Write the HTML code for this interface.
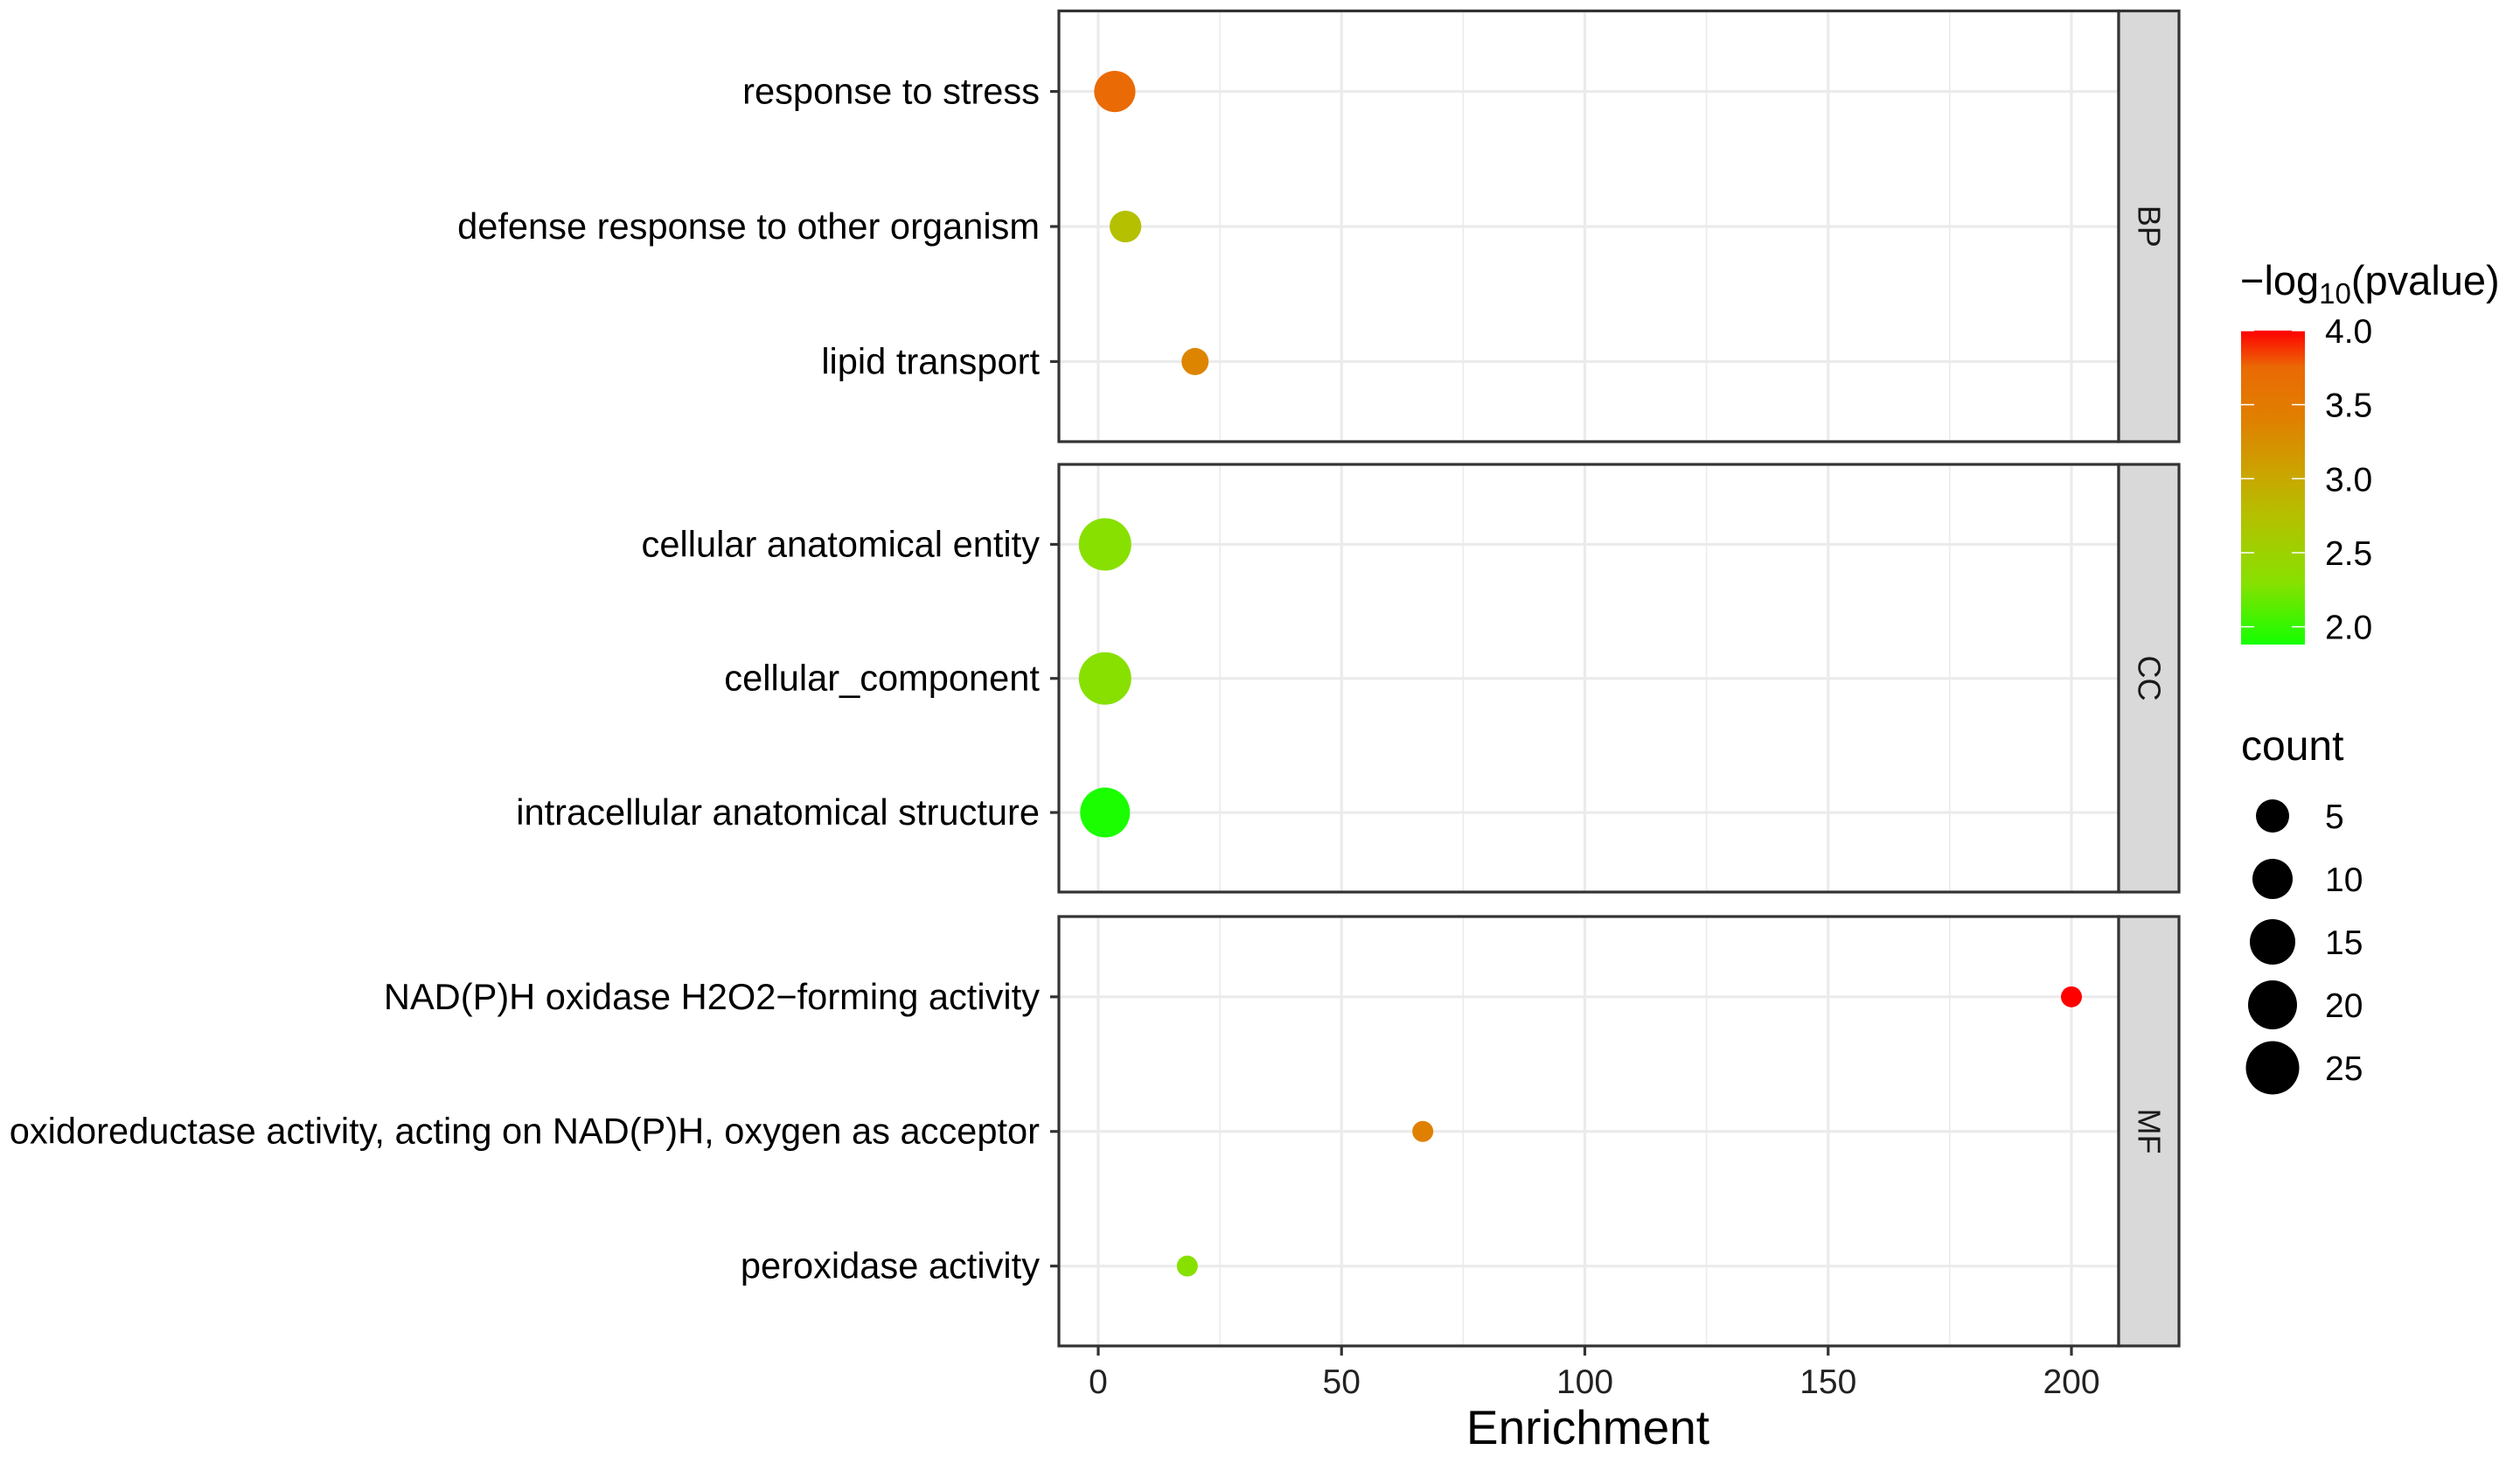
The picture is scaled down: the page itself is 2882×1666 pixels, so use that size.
<!DOCTYPE html>
<html><head><meta charset="utf-8"><style>
html,body{margin:0;padding:0;background:#fff;}
svg{display:block;font-family:"Liberation Sans",Arial,sans-serif;}
</style></head><body>
<svg id="chart" width="2882" height="1666" viewBox="0 0 2882 1666" xmlns="http://www.w3.org/2000/svg"></svg>
<script>
const facets = ["BP","CC","MF"];
const terms = [
 ["response to stress","defense response to other organism","lipid transport"],
 ["cellular anatomical entity","cellular_component","intracellular anatomical structure"],
 ["NAD(P)H oxidase H2O2\u2212forming activity","oxidoreductase activity, acting on NAD(P)H, oxygen as acceptor","peroxidase activity"]
];
const enrichment = [[3.4,5.6,19.9],[1.4,1.4,1.4],[200,66.7,18.3]];
const pvalLog = [[3.75,2.75,3.35],[2.3,2.3,1.9],[4.0,3.4,2.3]];
const counts = [[11,4.5,3],[24,24,21],[1,1,1]];
const xTicks = [0,50,100,150,200];
const colorTicks = [2.0,2.5,3.0,3.5,4.0];
const sizeBreaks = [5,10,15,20,25];

const svg = document.getElementById('chart');
const NS = "http://www.w3.org/2000/svg";
function mk(tag, attrs, parent){const e=document.createElementNS(NS,tag);for(const k in attrs)e.setAttribute(k,attrs[k]);(parent||svg).appendChild(e);return e;}

const PL=1211, PR=2423, X0=1256, XS=5.565;
const xMin=(PL-X0)/XS, xMax=(PR-X0)/XS;
function xPos(v){return PL+(v-xMin)/(xMax-xMin)*(PR-PL);}
const panels=[[12.5,505],[531,1020],[1048,1539]];
function yPos(p,i){const [t,b]=panels[p];const h=b-t;return t+h*(0.187+0.3135*i);}
const sizeC=[1,5,10,15,20,25], sizeD=[24,38,46,52,56,61];
function diam(c){for(let i=0;i<sizeC.length-1;i++){if(c<=sizeC[i+1]){const t=(c-sizeC[i])/(sizeC[i+1]-sizeC[i]);return sizeD[i]+t*(sizeD[i+1]-sizeD[i]);}}return sizeD[sizeD.length-1];}
const cMin=1.88, cMax=4.0;
const stopV=[1.88,2.3,2.75,3.0,3.4,3.75,4.0];
const stopC=[[20,255,0],[136,224,0],[181,192,0],[200,168,0],[224,128,0],[234,106,5],[255,0,0]];
function col(v){v=Math.max(cMin,Math.min(cMax,v));for(let i=0;i<stopV.length-1;i++){if(v<=stopV[i+1]){const t=(v-stopV[i])/(stopV[i+1]-stopV[i]);const c=stopC[i].map((a,k)=>Math.round(a+t*(stopC[i+1][k]-a)));return `rgb(${c.join(',')})`;}}return 'rgb(255,0,0)';}
const CBT=378, CBB=737;
function cbY(v){return CBB-(v-cMin)/(cMax-cMin)*(CBB-CBT);}

panels.forEach((pb,p)=>{
  const g=mk('g',{});  
  mk('rect',{x:PL,y:pb[0],width:PR-PL,height:pb[1]-pb[0],fill:'#fff'},g);
  for(let i=0;i<xTicks.length;i++){const m=xTicks[i]+25;const xx=xPos(m);if(xx<PR)mk('line',{x1:xx,x2:xx,y1:pb[0],y2:pb[1],stroke:'#ebebeb','stroke-width':1.6},g);}
  xTicks.forEach(t=>{const xx=xPos(t);mk('line',{x1:xx,x2:xx,y1:pb[0],y2:pb[1],stroke:'#ebebeb','stroke-width':3.2},g);});
  terms[p].forEach((term,i)=>{
    const y=yPos(p,i);
    mk('line',{x1:PL,x2:PR,y1:y,y2:y,stroke:'#ebebeb','stroke-width':3.2},g);
    mk('line',{x1:PL-10,x2:PL,y1:y,y2:y,stroke:'#333','stroke-width':3.2},g);
    const lab=mk('text',{x:1189,y:y+14,'text-anchor':'end','font-size':41.6,fill:'#000'},g);
    lab.textContent=term;
    
    
  });
  terms[p].forEach((term,i)=>{
    const c=mk('circle',{cx:xPos(enrichment[p][i]),cy:yPos(p,i),r:diam(counts[p][i])/2,fill:col(pvalLog[p][i])},g);
    
    
  });
  mk('rect',{x:PL,y:pb[0],width:PR-PL,height:pb[1]-pb[0],fill:'none',stroke:'#333','stroke-width':3.2},g);
  const s=mk('rect',{x:PR,y:pb[0],width:69,height:pb[1]-pb[0],fill:'#d9d9d9',stroke:'#333','stroke-width':3.2},g);
  
  
  const cy=(pb[0]+pb[1])/2;
  const st=mk('text',{x:2458,y:cy,'text-anchor':'middle','dominant-baseline':'central','font-size':36,fill:'#1a1a1a',transform:`rotate(90 2458 ${cy})`},g);
  st.textContent=facets[p];
  
  
});
xTicks.forEach(t=>{
  const xx=xPos(t);
  mk('line',{x1:xx,x2:xx,y1:1539,y2:1550,stroke:'#333','stroke-width':3.2});
  const tl=mk('text',{x:xx,y:1593,'text-anchor':'middle','font-size':39,fill:'#222'});
  tl.textContent=t;
  
  
});
const xt=mk('text',{x:1816,y:1651,'text-anchor':'middle','font-size':55,fill:'#000'});
xt.textContent='Enrichment';



const lt=mk('text',{x:2562,y:337,'font-size':47,fill:'#000'});
lt.innerHTML='\u2212log<tspan font-size="33" dy="10">10</tspan><tspan dy="-10">(pvalue)</tspan>';


const defs=mk('defs',{});
const lg=mk('linearGradient',{id:'cg',x1:0,y1:1,x2:0,y2:0},defs);
stopV.forEach(v=>{mk('stop',{offset:(v-cMin)/(cMax-cMin),'stop-color':col(v)},lg);});
const cb=mk('rect',{x:2563,y:CBT,width:73,height:CBB-CBT,fill:'url(#cg)'});


colorTicks.forEach(v=>{
  const y=cbY(v);
  mk('line',{x1:2563,x2:2578,y1:y,y2:y,stroke:'#fff','stroke-width':1.5});
  mk('line',{x1:2621,x2:2636,y1:y,y2:y,stroke:'#fff','stroke-width':1.5});
  const tl=mk('text',{x:2659,y:y+14,'font-size':39,fill:'#000'});
  tl.textContent=v.toFixed(1);
  
  
});
const ct=mk('text',{x:2563,y:869,'font-size':48,fill:'#000'});
ct.textContent='count';


sizeBreaks.forEach((c,i)=>{
  const y=933+i*72;
  const k=mk('circle',{cx:2599,cy:y,r:diam(c)/2,fill:'#000'});
  
  
  const tl=mk('text',{x:2659,y:y+14,'font-size':39,fill:'#000'});
  tl.textContent=c;
  
  
});
</script>
</body></html>
